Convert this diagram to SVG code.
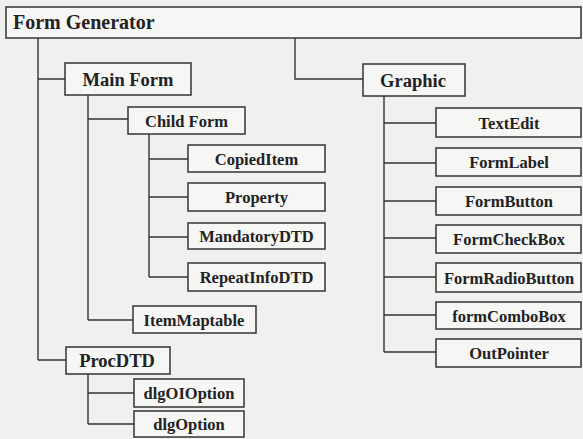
<svg xmlns="http://www.w3.org/2000/svg" width="583" height="439" viewBox="0 0 583 439">
<style>
.bg{fill:#f0f0ef}
.box{fill:#f6f6f5;stroke:#333;stroke-width:1.5}
.t{font-family:"Liberation Serif","Times New Roman",serif;font-weight:bold;fill:#222;text-anchor:middle}
.s{font-size:16.5px}
.m{font-size:18.5px}
.conn{fill:none;stroke:#333;stroke-width:1.4}
</style>
<rect class="bg" x="0" y="0" width="583" height="439"/>
<g id="connectors" class="conn">
<path d="M38 38V360M38 79H65M38 360H66"/>
<path d="M88 95V320M88 119H128M88 320H133"/>
<path d="M149 134V277M149 159H188M149 197H188M149 237H188M149 277H188"/>
<path d="M88 374V424M88 393H134M88 424H134"/>
<path d="M295 38V79H363"/>
<path d="M384 96V352M384 123H436M384 163H436M384 201H436M384 238H436M384 277H436M384 315H436M384 352H436"/>
</g>
<g id="form-generator"><rect class="box" x="6" y="7" width="575" height="31"/><text class="t" x="13" y="29" style="font-size:20px;text-anchor:start">Form Generator</text></g>
<g id="main-form"><rect class="box" x="65" y="63" width="126" height="32"/><text class="t m" x="128" y="86">Main Form</text></g>
<g id="child-form"><rect class="box" x="128" y="107" width="117" height="27"/><text class="t s" x="186.5" y="126.5">Child Form</text></g>
<g id="copied-item"><rect class="box" x="188" y="145" width="137" height="27"/><text class="t s" x="256.5" y="164.5">CopiedItem</text></g>
<g id="property"><rect class="box" x="188" y="183" width="137" height="28"/><text class="t s" x="256.5" y="203">Property</text></g>
<g id="mandatory-dtd"><rect class="box" x="188" y="223" width="137" height="26"/><text class="t s" x="256.5" y="242">MandatoryDTD</text></g>
<g id="repeat-info-dtd"><rect class="box" x="188" y="263" width="137" height="28"/><text class="t s" x="256.5" y="283">RepeatInfoDTD</text></g>
<g id="item-maptable"><rect class="box" x="133" y="306" width="123" height="27"/><text class="t s" x="194" y="325.5">ItemMaptable</text></g>
<g id="proc-dtd"><rect class="box" x="66" y="347" width="104" height="27"/><text class="t m" x="117" y="367">ProcDTD</text></g>
<g id="dlg-oi-option"><rect class="box" x="134" y="379" width="110" height="28"/><text class="t s" x="189" y="399">dlgOIOption</text></g>
<g id="dlg-option"><rect class="box" x="134" y="411" width="110" height="26"/><text class="t s" x="189" y="430">dlgOption</text></g>
<g id="graphic"><rect class="box" x="363" y="64" width="102" height="32"/><text class="t m" x="413" y="86.5">Graphic</text></g>
<g id="text-edit"><rect class="box" x="436" y="108" width="145" height="29"/><text class="t s" x="509" y="128.5">TextEdit</text></g>
<g id="form-label"><rect class="box" x="436" y="148" width="145" height="28"/><text class="t s" x="509" y="168">FormLabel</text></g>
<g id="form-button"><rect class="box" x="436" y="187" width="145" height="28"/><text class="t s" x="509" y="207">FormButton</text></g>
<g id="form-check-box"><rect class="box" x="436" y="225" width="145" height="28"/><text class="t s" x="509" y="245">FormCheckBox</text></g>
<g id="form-radio-button"><rect class="box" x="436" y="263" width="145" height="29"/><text class="t s" x="509" y="283.5">FormRadioButton</text></g>
<g id="form-combo-box"><rect class="box" x="436" y="302" width="145" height="27"/><text class="t s" x="509" y="321.5">formComboBox</text></g>
<g id="out-pointer"><rect class="box" x="436" y="339" width="145" height="28"/><text class="t s" x="509" y="359">OutPointer</text></g>
</svg>
